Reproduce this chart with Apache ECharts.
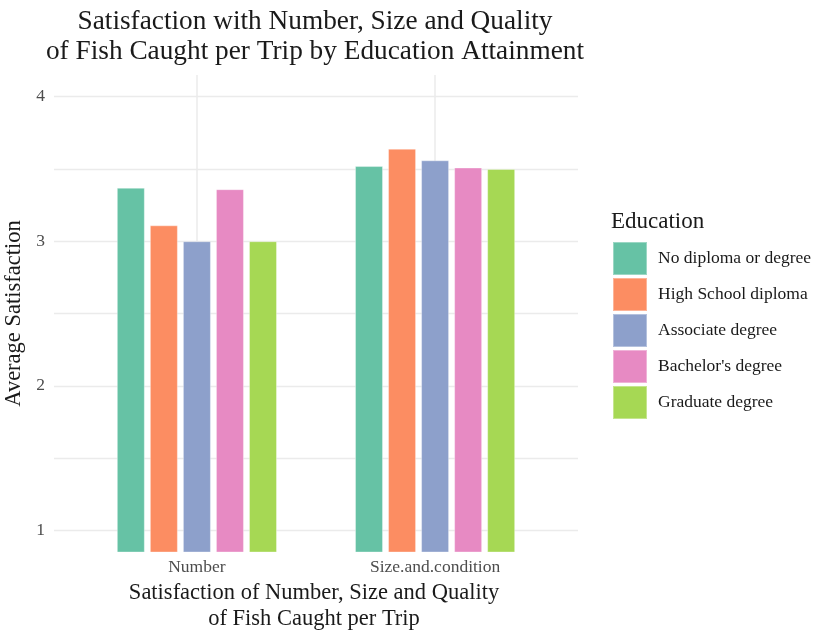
<!DOCTYPE html>
<html><head><meta charset="utf-8">
<script src="https://cdn.jsdelivr.net/npm/echarts@6/dist/echarts.min.js"></script>
<style>html,body{margin:0;padding:0;background:#fff}#c{width:819px;height:630px}</style>
</head><body><div id="c"></div>
<script>
const categories = ["Number", "Size.and.condition"];
const educationLevels = ["No diploma or degree", "High School diploma", "Associate degree", "Bachelor's degree", "Graduate degree"];
const noDiploma = [3.37, 3.52];
const highSchool = [3.11, 3.64];
const associate = [3.00, 3.56];
const bachelor = [3.36, 3.51];
const graduate = [3.00, 3.50];
const yTicks = [1, 2, 3, 4];
const yGrid = [1, 1.5, 2, 2.5, 3, 3.5, 4];
const colors = ["#66C2A5", "#FC8D62", "#8DA0CB", "#E78AC3", "#A6D854"];

const seriesValues = [noDiploma, highSchool, associate, bachelor, graduate];
const font = "'Liberation Serif', 'DejaVu Serif', serif";
const xPos = categories.map((c, i) => i + 1);

const chart = echarts.init(document.getElementById('c'), null, {renderer: 'canvas'});
chart.setOption({
  animation: false,
  color: colors,
  title: [{
    text: "Satisfaction with Number, Size and Quality\nof Fish Caught per Trip by Education Attainment",
    left: 315, top: 7, textAlign: 'center', padding: 0,
    textStyle: {fontFamily: font, fontSize: 27.3, fontWeight: 'normal', color: '#1a1a1a', lineHeight: 30}
  }, {
    text: "Education", left: 611, top: 210, padding: 0,
    textStyle: {fontFamily: font, fontSize: 23, fontWeight: 'normal', color: '#1a1a1a'}
  }, {
    text: "Satisfaction of Number, Size and Quality\nof Fish Caught per Trip",
    left: 314, top: 580, textAlign: 'center', padding: 0,
    textStyle: {fontFamily: font, fontSize: 22.5, fontWeight: 'normal', color: '#1a1a1a', lineHeight: 26}
  }],
  legend: {
    orient: 'vertical', left: 612, top: 241, padding: 0,
    itemWidth: 34, itemHeight: 33, itemGap: 1, icon: 'rect',
    textStyle: {fontFamily: font, fontSize: 17.5, color: '#1a1a1a', padding: [0, 0, 0, 6]},
    data: educationLevels
  },
  grid: {left: 54, right: 241, top: 75, bottom: 78, containLabel: false, outerBoundsMode: 'none'},
  xAxis: {
    type: 'value', min: 0.4, max: 2.6,
    axisLine: {show: false},
    axisTick: {show: false, customValues: xPos},
    axisLabel: {customValues: xPos, margin: 6, fontFamily: font, fontSize: 17.5, color: '#4d4d4d',
      formatter: v => categories[Math.round(v) - 1] || ''},
    splitLine: {show: true, lineStyle: {color: '#ebebeb', width: 1.5}}
  },
  yAxis: {
    type: 'value', min: 0.85, max: 4.15,
    name: 'Average Satisfaction', nameLocation: 'middle', nameRotate: 90, nameGap: 23,
    nameTextStyle: {fontFamily: font, fontSize: 22.5, color: '#1a1a1a'},
    axisLine: {show: false},
    axisTick: {show: false, customValues: yGrid},
    axisLabel: {customValues: yTicks, margin: 9, fontFamily: font, fontSize: 17.5, color: '#4d4d4d'},
    splitLine: {show: true, lineStyle: {color: '#ebebeb', width: 1.3}}
  },
  series: educationLevels.map((name, k) => ({
    name: name, type: 'bar',
    barWidth: 28, barGap: '18%',
    data: seriesValues[k].map((v, i) => [xPos[i], v]),
    itemStyle: {borderColor: 'rgba(255,255,255,0.35)', borderWidth: 1}
  }))
});
</script></body></html>
